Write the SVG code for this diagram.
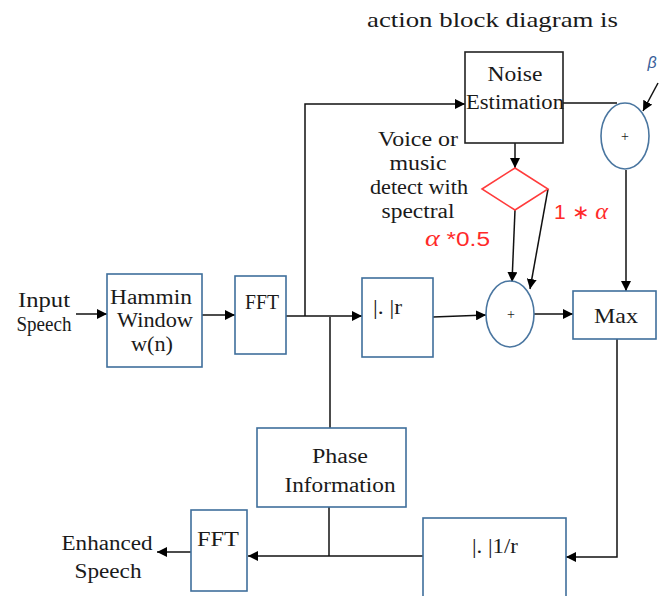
<svg xmlns="http://www.w3.org/2000/svg" width="672" height="596" viewBox="0 0 672 596">
<defs>
<marker id="ah" viewBox="0 0 10 10" refX="10" refY="5" markerWidth="10" markerHeight="10" markerUnits="userSpaceOnUse" orient="auto">
<path d="M0,0 L10,5 L0,10 z" fill="#000"/>
</marker>
<style>
.t{font-family:"Liberation Serif","Times New Roman",serif;font-size:20px;fill:#1a1a1a;text-anchor:middle}
.box{fill:#fff;stroke:#3f6f9c;stroke-width:1.6}
.bk{fill:#fff;stroke:#222;stroke-width:1.6}
.el{fill:#fff;stroke:#4a76a0;stroke-width:1.6}
.ln{fill:none;stroke:#111;stroke-width:1.5}
.ar{fill:none;stroke:#111;stroke-width:1.5;marker-end:url(#ah)}
.red{font-family:"Liberation Sans",Arial,sans-serif;font-size:20px;fill:#ff2a2a}
</style>
</defs>
<rect width="672" height="596" fill="#fff"/>
<text x="367" y="27" class="t" style="text-anchor:start;font-size:22px" textLength="251" lengthAdjust="spacingAndGlyphs">action block diagram is</text>

<g id="connectors">
<line class="ar" x1="76" y1="314" x2="107" y2="314"/>
<line class="ar" x1="202" y1="315" x2="235" y2="315"/>
<line class="ar" x1="286" y1="316" x2="362" y2="316"/>
<polyline class="ar" points="305,316 305,104 465,104"/>
<line class="ln" x1="330" y1="317" x2="330" y2="428"/>
<line class="ln" x1="563" y1="103" x2="617" y2="103"/>
<line class="ar" x1="658" y1="83" x2="643" y2="111"/>
<line class="ar" x1="515" y1="143" x2="515" y2="168"/>
<line class="ar" x1="515" y1="210" x2="512" y2="282"/>
<line class="ar" x1="548" y1="189" x2="530" y2="289"/>
<line class="ar" x1="626" y1="170" x2="626" y2="291"/>
<line class="ar" x1="433" y1="317" x2="486" y2="315"/>
<line class="ar" x1="534" y1="314" x2="573" y2="314"/>
<polyline class="ar" points="617,339 617,557 566,557"/>
<line class="ar" x1="423" y1="556" x2="248" y2="556"/>
<line class="ln" x1="329" y1="507" x2="329" y2="556"/>
<line class="ar" x1="191" y1="552" x2="157" y2="552"/>
</g>

<g id="input-label">
<text class="t" x="44" y="307" textLength="52" lengthAdjust="spacingAndGlyphs">Input</text>
<text class="t" x="44" y="331" textLength="55" lengthAdjust="spacingAndGlyphs">Speech</text>
</g>

<g id="hamming">
<rect class="box" x="107" y="274" width="95" height="93"/>
<text class="t" x="151" y="304" textLength="82" lengthAdjust="spacingAndGlyphs">Hammin</text>
<text class="t" x="155" y="327" textLength="76" lengthAdjust="spacingAndGlyphs">Window</text>
<text class="t" x="152" y="351" textLength="42" lengthAdjust="spacingAndGlyphs">w(n)</text>
</g>

<g id="fft1">
<rect class="box" x="235" y="276" width="51" height="78"/>
<text class="t" x="262" y="309" textLength="34" lengthAdjust="spacingAndGlyphs">FFT</text>
</g>

<g id="noise-estimation">
<rect class="bk" x="465" y="52" width="98" height="91"/>
<text class="t" x="515" y="81" textLength="55" lengthAdjust="spacingAndGlyphs">Noise</text>
<text class="t" x="515" y="109" textLength="98" lengthAdjust="spacingAndGlyphs">Estimation</text>
</g>

<g id="detector">
<path d="M482,189 L515,168 L548,189 L515,210 Z" fill="#fff" stroke="#ff3b3b" stroke-width="1.5"/>
<text class="t" x="418" y="146" textLength="80" lengthAdjust="spacingAndGlyphs">Voice or</text>
<text class="t" x="418" y="170" textLength="57" lengthAdjust="spacingAndGlyphs">music</text>
<text class="t" x="419" y="194" textLength="98" lengthAdjust="spacingAndGlyphs">detect with</text>
<text class="t" x="418" y="218" textLength="73" lengthAdjust="spacingAndGlyphs">spectral</text>
<text class="red" x="425" y="246" textLength="65" lengthAdjust="spacingAndGlyphs"><tspan font-family="Liberation Serif,serif" font-style="italic" font-size="23">α</tspan> *0.5</text>
<text class="red" x="554" y="219" textLength="54" lengthAdjust="spacingAndGlyphs">1 ∗ <tspan font-family="Liberation Serif,serif" font-style="italic" font-size="23">α</tspan></text>
</g>

<g id="beta">
<text x="652" y="68" style="font-family:'Liberation Sans',Arial,sans-serif;font-size:16px;font-style:italic;fill:#3a5f9a;text-anchor:middle">β</text>
</g>

<g id="sum-top">
<ellipse class="el" cx="625" cy="136" rx="24" ry="33"/>
<text class="t" x="625" y="141" style="font-size:14px">+</text>
</g>

<g id="abs-r">
<rect class="box" x="362" y="278" width="71" height="79"/>
<text class="t" x="373" y="314" style="text-anchor:start" textLength="29" lengthAdjust="spacingAndGlyphs">|. |r</text>
</g>

<g id="sum-mid">
<ellipse class="el" cx="510" cy="314" rx="24" ry="33"/>
<text class="t" x="511" y="319" style="font-size:14px">+</text>
</g>

<g id="max">
<rect class="box" x="573" y="291" width="83" height="48"/>
<text class="t" x="616" y="323" style="font-size:22px" textLength="44" lengthAdjust="spacingAndGlyphs">Max</text>
</g>

<g id="phase">
<rect class="box" x="257" y="428" width="149" height="79"/>
<text class="t" x="340" y="463" textLength="56" lengthAdjust="spacingAndGlyphs">Phase</text>
<text class="t" x="340" y="492" textLength="111" lengthAdjust="spacingAndGlyphs">Information</text>
</g>

<g id="abs-inv">
<rect class="box" x="423" y="518" width="143" height="80"/>
<text class="t" x="495" y="553" textLength="46" lengthAdjust="spacingAndGlyphs">|. |1/r</text>
</g>

<g id="fft2">
<rect class="box" x="191" y="510" width="56" height="81"/>
<text class="t" x="218" y="546" textLength="42" lengthAdjust="spacingAndGlyphs">FFT</text>
</g>

<g id="output-label">
<text class="t" x="107" y="550" textLength="91" lengthAdjust="spacingAndGlyphs">Enhanced</text>
<text class="t" x="108" y="578" textLength="67" lengthAdjust="spacingAndGlyphs">Speech</text>
</g>
</svg>
